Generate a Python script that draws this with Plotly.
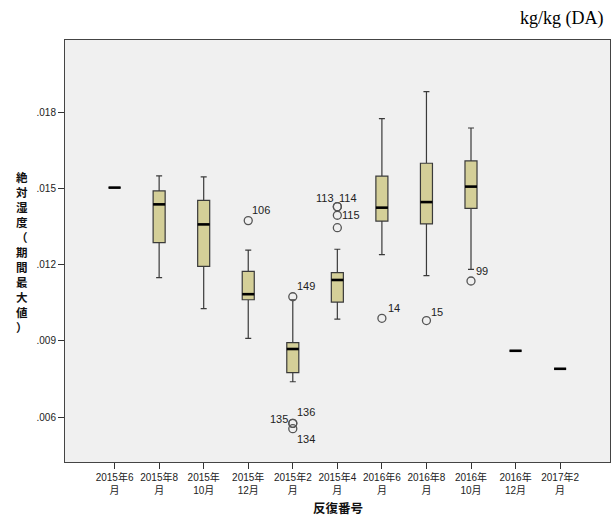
import plotly.graph_objects as go

# Visit periods (x categories) and their two-line tick labels
periods = ["2015年6月", "2015年8月", "2015年10月", "2015年12月", "2015年2月", "2015年4月",
           "2016年6月", "2016年8月", "2016年10月", "2016年12月", "2017年2月"]
tick_labels = ["2015年6<br>月", "2015年8<br>月", "2015年<br>10月", "2015年<br>12月", "2015年2<br>月",
               "2015年4<br>月", "2016年6<br>月", "2016年8<br>月", "2016年<br>10月", "2016年<br>12月",
               "2017年2<br>月"]

# Box statistics per period (absolute humidity, kg/kg DA)
lower_whisker = [0.01504, 0.01149, 0.01027, 0.00910, 0.00739, 0.00986, 0.01240, 0.01157, 0.01182, 0.00861, 0.00790]
q1 = [0.01504, 0.01287, 0.01194, 0.01062, 0.00775, 0.01053, 0.01372, 0.01361, 0.01422, 0.00861, 0.00790]
median = [0.01504, 0.01438, 0.01359, 0.01084, 0.00868, 0.01140, 0.01425, 0.01447, 0.01508, 0.00861, 0.00790]
q3 = [0.01504, 0.01491, 0.01454, 0.01174, 0.00893, 0.01169, 0.01549, 0.01600, 0.01609, 0.00861, 0.00790]
upper_whisker = [0.01504, 0.01550, 0.01546, 0.01258, 0.01062, 0.01261, 0.01776, 0.01882, 0.01739, 0.00861, 0.00790]

# Outliers: period index, value, case number
outlier_period = [3, 4, 4, 4, 4, 5, 5, 5, 5, 6, 7, 8]
outlier_value = [0.01374, 0.01074, 0.00575, 0.00575, 0.00554, 0.01429, 0.01429, 0.01395, 0.01346, 0.00989, 0.00980, 0.01136]
outlier_case = ["106", "149", "136", "135", "134", "113", "114", "115", "", "14", "15", "99"]

# Y tick values and labels
y_ticks = [0.006, 0.009, 0.012, 0.015, 0.018]
y_tick_text = [".006", ".009", ".012", ".015", ".018"]

# Case label placement around each circle: (xanchor, xshift, yshift)
label_place = [("left", 2, 11), ("left", 2, 11), ("left", 2, 11), ("right", -3, 4), ("left", 2, -10),
               ("center", -12, 9), ("center", 11, 9), ("left", 3, 0), ("left", 3, 0),
               ("left", 4, 10), ("left", 3, 9), ("left", 3, 10)]

FILL = "#D4CF98"
BG = "#F0F0F0"
TXT_FONT = "Liberation Sans, Arial, Noto Sans CJK JP"
CJK_FONT = "Noto Sans CJK JP, Liberation Sans"
BOX_W = 0.27

xs = list(range(len(periods)))

fig = go.Figure()

fig.add_trace(go.Box(
    x=xs, q1=q1, median=median, q3=q3,
    lowerfence=lower_whisker, upperfence=upper_whisker,
    width=BOX_W, whiskerwidth=0.5,
    fillcolor=FILL, line=dict(color="#3a3a3a", width=1.2),
    boxpoints=False, hoverinfo="skip", showlegend=False,
))

# Heavy median bars
mx, my = [], []
for i, m in zip(xs, median):
    mx += [i - BOX_W / 2, i + BOX_W / 2, None]
    my += [m, m, None]
fig.add_trace(go.Scatter(x=mx, y=my, mode="lines", line=dict(color="black", width=2.6),
                         hoverinfo="skip", showlegend=False))

# Outlier circles
fig.add_trace(go.Scatter(
    x=outlier_period, y=outlier_value, mode="markers",
    marker=dict(symbol="circle-open", size=8, color="#555555", line=dict(width=1.3)),
    hoverinfo="skip", showlegend=False,
))

for p, v, c, (anc, dx, dy) in zip(outlier_period, outlier_value, outlier_case, label_place):
    if not c:
        continue
    fig.add_annotation(x=p, y=v, xref="x", yref="y", text=c, showarrow=False,
                       xanchor=anc, yanchor="middle", xshift=dx, yshift=dy,
                       font=dict(family=TXT_FONT, size=11, color="#222222"))

# Vertical (stacked) y-axis title
y_title = "絶対湿度（期間最大値）"
fig.add_annotation(x=-0.079, y=0.498, xref="paper", yref="paper",
                   text="<b>" + "<br>".join(y_title) + "</b>", showarrow=False,
                   xanchor="center", yanchor="middle", align="center",
                   font=dict(family=CJK_FONT, size=11.5, color="#111111"))

# X-axis title
fig.add_annotation(x=0.5, y=-0.109, xref="paper", yref="paper", text="<b>反復番号</b>",
                   showarrow=False, xanchor="center", yanchor="middle",
                   font=dict(family=CJK_FONT, size=12.5, color="#111111"))

# Unit label
fig.add_annotation(x=0.993, y=1.052, xref="paper", yref="paper", text="kg/kg (DA)",
                   showarrow=False, xanchor="right", yanchor="middle",
                   font=dict(family="Liberation Serif, DejaVu Serif, serif", size=18, color="black"))

fig.update_layout(
    width=612, height=518,
    margin=dict(l=65, r=2, t=40, b=56),
    paper_bgcolor="white", plot_bgcolor=BG,
    showlegend=False,
    xaxis=dict(range=[-1.113, 11.12], tickmode="array", tickvals=xs, ticktext=tick_labels,
               ticks="outside", ticklen=6, tickcolor="#333333", tickwidth=1,
               showgrid=False, zeroline=False, showline=True, linecolor="#444444",
               linewidth=1, mirror=True,
               tickfont=dict(family=TXT_FONT, size=10, color="#222222")),
    yaxis=dict(range=[0.004227, 0.020857], tickmode="array", tickvals=y_ticks, ticktext=y_tick_text,
               ticks="outside", ticklen=6, tickcolor="#333333", tickwidth=1,
               showgrid=False, zeroline=False, showline=True, linecolor="#444444",
               linewidth=1, mirror=True,
               tickfont=dict(family=TXT_FONT, size=10, color="#222222")),
)

fig.write_html("out.html")
